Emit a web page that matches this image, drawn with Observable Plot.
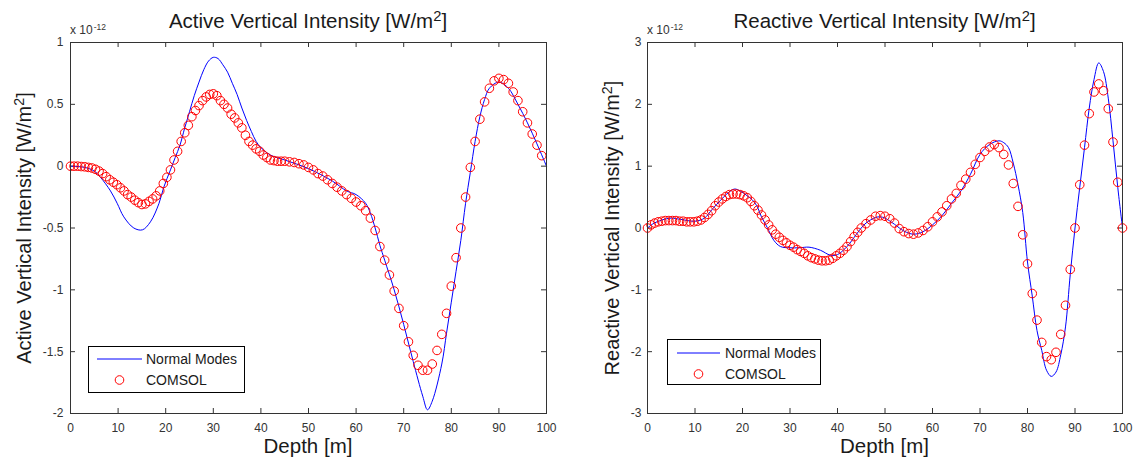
<!DOCTYPE html>
<html><head><meta charset="utf-8">
<script src="https://cdn.jsdelivr.net/npm/d3@7"></script>
<script src="https://cdn.jsdelivr.net/npm/@observablehq/plot@0.6"></script>
<style>
body{margin:0;background:#fff;}
#wrap{position:relative;width:1139px;height:461px;overflow:hidden;font-family:"Liberation Sans",Arial,sans-serif;color:#1a1a1a;background:#fff;}
.panel{position:absolute;top:0;}
.lbl{position:absolute;white-space:nowrap;transform:translate(-50%,-50%);font-size:20.5px;line-height:1;}
.ylbl{position:absolute;white-space:nowrap;transform:translate(-50%,-50%) rotate(-90deg);font-size:20px;line-height:1;}
.sup{font-size:0.72em;position:relative;top:-0.5em;}
.expo{position:absolute;font-size:12px;color:#333;white-space:nowrap;line-height:1;}
.expo .s{font-size:8.5px;position:relative;top:-4px;margin-left:1px;}
.legend{position:absolute;border:1px solid #000;background:#fff;box-sizing:border-box;font-size:14px;}
.legend svg{position:absolute;left:0;top:0;}
.legend span{position:absolute;white-space:nowrap;transform:translateY(-50%);line-height:1;}
</style></head>
<body><div id="wrap"></div>
<script>
// ---------- data ----------
const depthTicks = [0,10,20,30,40,50,60,70,80,90,100];
const activeTicks = [-2,-1.5,-1,-0.5,0,0.5,1];
const reactiveTicks = [-3,-2,-1,0,1,2,3];

// Normal Modes (blue line), values x 1e-12
const activeNMDepth = [0,3,5,6.3,8.4,9.8,11.2,13.3,15.1,16.8,18.6,19.6,21,22,23,24,25,26,27,28,29,30,31,32,33,34,35,36,37,38,39,40,42,45,50,55,58,60,62,63,64,65,66,68,70,72,74,75,76,78,79,80,81,82,83,84,85,86,87,88,90,92,94,96,98,100];
const activeNM = [0,-0.01,-0.04,-0.09,-0.2,-0.3,-0.41,-0.5,-0.515,-0.45,-0.3,-0.17,-0.03,0.07,0.17,0.31,0.44,0.57,0.68,0.78,0.85,0.88,0.87,0.82,0.76,0.67,0.58,0.47,0.37,0.28,0.2,0.15,0.09,0.05,-0.02,-0.12,-0.2,-0.23,-0.3,-0.38,-0.5,-0.64,-0.76,-1.0,-1.28,-1.58,-1.86,-1.97,-1.9,-1.6,-1.35,-1.1,-0.85,-0.6,-0.3,-0.05,0.2,0.4,0.54,0.63,0.68,0.63,0.5,0.35,0.18,0];

const reactiveNMDepth = [0,1,2,4,5,7,10,12,13.6,15.4,17,18.3,19.5,21,22,23,24,25.2,26.6,28,30,32,34,36.4,38.5,40,42,44,45,46,48,49,50,52,54,56,58,60,62,64,66,68,70,72,74,75,76,77,78,79,80,81,82,83,84,85,86,87,88,89,90,91,92,93,94,95,96,97,98,99,100];
const reactiveNM = [0,0.06,0.1,0.15,0.16,0.14,0.11,0.16,0.3,0.45,0.57,0.63,0.6,0.52,0.46,0.36,0.18,0.01,-0.2,-0.3,-0.32,-0.32,-0.31,-0.36,-0.44,-0.43,-0.3,-0.1,0,0.08,0.17,0.18,0.16,0.06,-0.05,-0.1,-0.06,0.05,0.2,0.4,0.6,0.87,1.19,1.35,1.41,1.38,1.3,1.05,0.7,0.25,-0.55,-1.1,-1.66,-1.98,-2.3,-2.4,-2.33,-2.05,-1.6,-0.75,0,0.66,1.3,1.94,2.4,2.67,2.53,2.1,1.41,0.66,0];

// COMSOL (red circles), values x 1e-12
const activeComsolDepth = [0,0.75,1.5,2.25,3,3.75,4.5,5.25,6,6.75,7.5,8.25,9,9.75,10.5,11.25,12,12.75,13.5,14.25,15,15.75,16.5,17.25,18,18.75,19.5,20.25,21,21.75,22.5,23.25,24,24.75,25.5,26.25,27,27.75,28.5,29.25,30,30.75,31.5,32.25,33,33.75,34.5,35.25,36,36.75,37.5,38.25,39,39.75,40.5,41.25,42,42.75,43.5,44.25,45,46,47,48,49,50,51,52,53,54,55,56,57,58,59,60,61,62,63,64,65,66,67,68,69,70,71,72,73,74,75,76,77,78,79,80,81,82,83,84,85,86,87,88,89,90,91,92,93,94,95,96,97,98,99];
const activeComsol = [0,0,0,-0.003,-0.005,-0.01,-0.015,-0.025,-0.04,-0.06,-0.085,-0.11,-0.13,-0.15,-0.175,-0.2,-0.23,-0.25,-0.275,-0.295,-0.31,-0.305,-0.285,-0.265,-0.24,-0.2,-0.14,-0.09,-0.03,0.05,0.12,0.2,0.27,0.33,0.4,0.45,0.49,0.53,0.56,0.58,0.585,0.57,0.53,0.5,0.47,0.42,0.39,0.35,0.31,0.25,0.2,0.17,0.14,0.12,0.09,0.07,0.05,0.045,0.04,0.04,0.04,0.035,0.03,0.02,0.01,-0.01,-0.03,-0.06,-0.08,-0.11,-0.14,-0.17,-0.2,-0.23,-0.26,-0.29,-0.32,-0.36,-0.42,-0.52,-0.65,-0.76,-0.88,-1.01,-1.15,-1.29,-1.42,-1.53,-1.61,-1.65,-1.65,-1.6,-1.49,-1.36,-1.19,-0.97,-0.74,-0.5,-0.25,-0.01,0.2,0.38,0.52,0.63,0.69,0.71,0.7,0.67,0.6,0.53,0.44,0.35,0.26,0.17,0.085];

const reactiveComsolDepth = [0,0.75,1.5,2.25,3,3.75,4.5,5.25,6,6.75,7.5,8.25,9,9.75,10.5,11.25,12,12.75,13.5,14.25,15,15.75,16.5,17.25,18,18.75,19.5,20.25,21,21.75,22.5,23.25,24,24.75,25.5,26.25,27,27.75,28.5,29.25,30,30.75,31.5,32.25,33,33.75,34.5,35.25,36,36.75,37.5,38.25,39,39.75,40.5,41.25,42,42.75,43.5,44.25,45,46,47,48,49,50,51,52,53,54,55,56,57,58,59,60,61,62,63,64,65,66,67,68,69,70,71,72,73,74,75,76,77,78,79,80,81,82,83,84,85,86,87,88,89,90,91,92,93,94,95,96,97,98,99,100];
const reactiveComsol = [0,0.05,0.08,0.1,0.11,0.12,0.12,0.12,0.12,0.11,0.11,0.1,0.1,0.1,0.11,0.13,0.17,0.22,0.28,0.36,0.42,0.47,0.51,0.54,0.55,0.55,0.54,0.52,0.49,0.43,0.36,0.29,0.21,0.13,0.05,-0.03,-0.1,-0.15,-0.2,-0.24,-0.28,-0.31,-0.35,-0.38,-0.41,-0.45,-0.48,-0.5,-0.52,-0.53,-0.53,-0.52,-0.49,-0.45,-0.41,-0.36,-0.3,-0.22,-0.14,-0.07,0,0.07,0.13,0.19,0.2,0.19,0.15,0.08,-0.01,-0.06,-0.09,-0.1,-0.08,-0.04,0.02,0.1,0.18,0.26,0.36,0.47,0.56,0.69,0.79,0.9,1.03,1.14,1.24,1.31,1.35,1.3,1.19,1.02,0.72,0.35,-0.11,-0.58,-1.06,-1.49,-1.85,-2.08,-2.13,-2.01,-1.72,-1.25,-0.67,0,0.7,1.34,1.85,2.2,2.33,2.22,1.93,1.39,0.74,0];

// ---------- drawing ----------
const wrap = document.getElementById("wrap");
const TICK_PX = 5;
const BLUE = "#0000ff", RED = "#ff0000";

function panel({left, width, mL, mR, yDomain, yTicks, nmDepth, nm, cDepth, c, title, ylabel, ylabelX, yPad, legend}) {
  const mT = 42, mB = 48, H = 461;
  const innerW = width - mL - mR, innerH = H - mT - mB;
  const [y0, y1] = yDomain;
  const ty = TICK_PX / innerH * (y1 - y0);
  const tx = TICK_PX / innerW * 100;
  const lineData = nmDepth.map((d, i) => ({depth: d, v: nm[i]}));
  const dotData = cDepth.map((d, i) => ({depth: d, v: c[i]}));
  const fmt = d => String(d);
  const svg = Plot.plot({
    width, height: H, marginLeft: mL, marginRight: mR, marginTop: mT, marginBottom: mB,
    style: {fontFamily: '"Liberation Sans", Arial, sans-serif', fontSize: "12px", color: "#333", background: "transparent", overflow: "visible"},
    x: {domain: [0, 100]},
    y: {domain: yDomain},
    marks: [
      Plot.axisX(depthTicks, {tickSize: 0, tickPadding: 10, tickFormat: fmt, label: null}),
      Plot.axisY(yTicks, {tickSize: 0, tickPadding: yPad, tickFormat: fmt, label: null}),
      Plot.ruleX(depthTicks, {x: d => d, y1: y0, y2: y0 + ty, stroke: "#333"}),
      Plot.ruleX(depthTicks, {x: d => d, y1: y1 - ty, y2: y1, stroke: "#333"}),
      Plot.ruleY(yTicks, {y: d => d, x1: 0, x2: tx, stroke: "#333"}),
      Plot.ruleY(yTicks, {y: d => d, x1: 100 - tx, x2: 100, stroke: "#333"}),
      Plot.line(lineData, {x: "depth", y: "v", stroke: BLUE, strokeWidth: 1, curve: "catmull-rom"}),
      Plot.dot(dotData, {x: "depth", y: "v", r: 4.3, stroke: RED, fill: "none", strokeWidth: 1}),
      Plot.frame({stroke: "#333"})
    ]
  });
  const box = document.createElement("div");
  box.className = "panel";
  box.style.left = left + "px";
  box.appendChild(svg);
  wrap.appendChild(box);

  const cx = left + mL + innerW / 2;
  const t = document.createElement("div");
  t.className = "lbl"; t.style.left = cx + "px"; t.style.top = "21px";
  t.innerHTML = title;
  wrap.appendChild(t);

  const xl = document.createElement("div");
  xl.className = "lbl"; xl.style.left = cx + "px"; xl.style.top = "446px";
  xl.textContent = "Depth [m]";
  wrap.appendChild(xl);

  const yl = document.createElement("div");
  yl.className = "ylbl"; yl.style.left = ylabelX + "px"; yl.style.top = (mT + innerH / 2) + "px";
  yl.innerHTML = ylabel;
  wrap.appendChild(yl);

  const ex = document.createElement("div");
  ex.className = "expo"; ex.style.left = (left + mL) + "px"; ex.style.top = "24px";
  ex.innerHTML = 'x 10<span class="s">-12</span>';
  wrap.appendChild(ex);

  const lg = document.createElement("div");
  lg.className = "legend";
  Object.assign(lg.style, {left: legend.x + "px", top: legend.y + "px", width: legend.w + "px", height: legend.h + "px"});
  const ns = "http://www.w3.org/2000/svg";
  const s = document.createElementNS(ns, "svg");
  s.setAttribute("width", legend.w); s.setAttribute("height", legend.h);
  const ln = document.createElementNS(ns, "line");
  ln.setAttribute("x1", legend.lx1); ln.setAttribute("x2", legend.lx2);
  ln.setAttribute("y1", legend.r1); ln.setAttribute("y2", legend.r1);
  ln.setAttribute("stroke", BLUE); ln.setAttribute("stroke-width", 1);
  s.appendChild(ln);
  const ci = document.createElementNS(ns, "circle");
  ci.setAttribute("cx", (legend.lx1 + legend.lx2) / 2); ci.setAttribute("cy", legend.r2);
  ci.setAttribute("r", 4.3); ci.setAttribute("fill", "none"); ci.setAttribute("stroke", RED);
  s.appendChild(ci);
  lg.appendChild(s);
  [["Normal Modes", legend.r1], ["COMSOL", legend.r2]].forEach(([txt, yy]) => {
    const sp = document.createElement("span");
    sp.textContent = txt; sp.style.left = legend.tx + "px"; sp.style.top = yy + "px";
    lg.appendChild(sp);
  });
  wrap.appendChild(lg);
}

panel({
  left: 0, width: 570, mL: 70, mR: 24,
  yDomain: [-2, 1], yTicks: activeTicks, yPad: 7,
  nmDepth: activeNMDepth, nm: activeNM, cDepth: activeComsolDepth, c: activeComsol,
  title: 'Active Vertical Intensity [W/m<span class="sup">2</span>]',
  ylabel: 'Active Vertical Intensity [W/m<span class="sup">2</span>]',
  ylabelX: 24,
  legend: {x: 88, y: 346, w: 157, h: 47, lx1: 8, lx2: 53, r1: 12, r2: 33, tx: 57}
});
panel({
  left: 570, width: 569, mL: 77, mR: 17,
  yDomain: [-3, 3], yTicks: reactiveTicks, yPad: 6,
  nmDepth: reactiveNMDepth, nm: reactiveNM, cDepth: reactiveComsolDepth, c: reactiveComsol,
  title: 'Reactive Vertical Intensity [W/m<span class="sup">2</span>]',
  ylabel: 'Reactive Vertical Intensity [W/m<span class="sup">2</span>]',
  ylabelX: 612,
  legend: {x: 667, y: 339, w: 154, h: 46, lx1: 9, lx2: 52, r1: 13, r2: 34, tx: 57}
});
</script></body></html>
